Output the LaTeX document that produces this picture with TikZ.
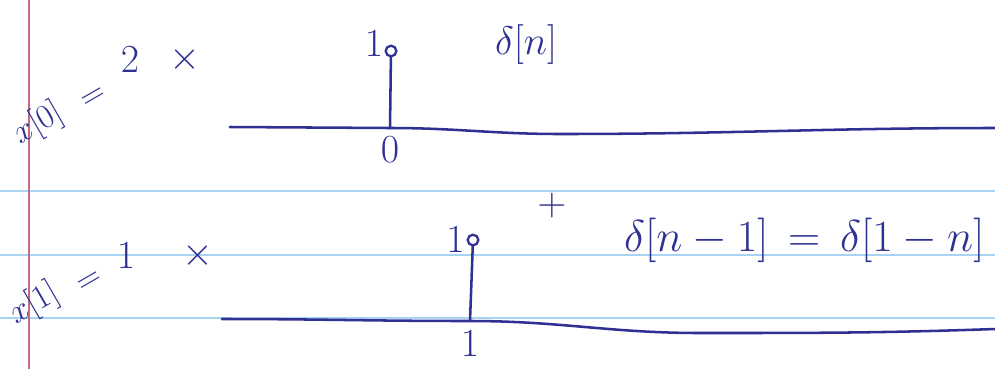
\documentclass[tikz,border=0pt]{standalone}
\usepackage{tikz}
\usetikzlibrary{positioning}
\definecolor{tinta}{HTML}{2E3192}
\definecolor{pauta}{HTML}{A9D3F5}
\definecolor{margem}{HTML}{C46A86}

\begin{document}
\begin{tikzpicture}[x=0.75pt, y=-0.75pt, font=\Huge,
  tx/.style={text=tinta, inner sep=1pt, scale=1.2, transform shape},
  rx/.style={tx, rotate=30, scale=0.85},
  eixo/.style={draw=tinta, line width=1.9pt, line cap=round},
  ponta/.style={circle, draw=tinta, line width=1.7pt, minimum size=8pt, inner sep=0pt}]
  \useasboundingbox (0,0) rectangle (995,369);
  % folha pautada
  \foreach \y in {191,255,318} {
    \draw[pauta, line width=1.3pt] (0,\y) -- (995,\y);
  }
  \draw[margem, line width=1.1pt] (29,0) -- (29,369);
  % x[0]
  \node[rx] (x0) at (38,124) {$x[0]$};
  \node[rx] (ig0) at (94,98) {$=$};
  \node[tx] (c0) at (130,60) {$2$};
  \node[tx] (vz0) at (185,60) {$\times$};
  \draw[eixo] (230,127) -- (390,128) to[out=0, in=180] (560,134) to[out=0, in=180] (995,128);
  \coordinate (b0) at (390,128);
  \node[ponta] (p0) at (391,51) {};
  \draw[eixo] (b0) -- (p0);
  \node[tx, above left=-9pt and 1pt of p0] (a0) {$1$};
  \node[tx, below=5pt of b0] (n0) {$0$};
  \node[tx] (d0) at (526,45) {$\delta[n]$};
  \node[tx] (mais) at (552,206) {$+$};
  % x[1]
  \node[rx] (x1) at (34,304) {$x[1]$};
  \node[rx] (ig1) at (90,282) {$=$};
  \node[tx] (c1) at (126,256) {$1$};
  \node[tx] (vz1) at (198,256) {$\times$};
  \draw[eixo] (222,319) to[out=0, in=180] (470,321) to[out=0, in=180] (700,333) to[out=0, in=182] (995,329);
  \coordinate (b1) at (470,321);
  \node[ponta] (p1) at (473,240) {};
  \draw[eixo] (b1) -- (p1);
  \node[tx, left=0pt of p1] (a1) {$1$};
  \node[tx, below=6pt of b1] (n1) {$1$};
  \node[tx, anchor=west, scale=1.12] (d1) at (622,240) {$\delta[n-1] \,=\, \delta[1-n]$};
\end{tikzpicture}
\end{document}
